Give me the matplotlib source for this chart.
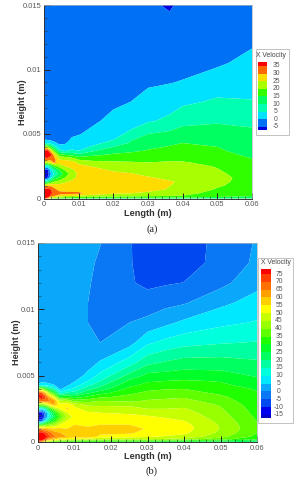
import numpy as np
import matplotlib
matplotlib.use("Agg")
import matplotlib.pyplot as plt
from matplotlib.colors import ListedColormap, BoundaryNorm
from matplotlib.patches import Rectangle

plt.rcParams['font.family'] = ['Liberation Sans', 'DejaVu Sans']

W, H = 308, 480

# --- panel (a) : vitesse, une liste par station x ---
x_a = [0, .001, .002, .003, .0045, .006, .008, .01, .015, .02, .025, .03, .0362, .04, .05, .06]
y_a = [0, .0002, .0004, .0007, .001, .0013, .0016, .0019, .0022, .0025, .0028, .0031, .0034,
       .0037, .004, .0043, .0046, .005, .006, .0075, .009, .0105, .012, .014, .015]
ua_00 = [37, 40, 39, 36, 28, 8, -6, -9, -5, 6, 25, 33, 40, 36, 20, 5, -0.5, -2, -2.5, -2.5, -2.5, -2.5, -2.5, -2.5, -2.5]
ua_01 = [30, 42, 41, 37, 29, 10, -5, -8, -6.5, 4, 24, 34, 41, 37, 22, 4, -1, -2, -2.5, -2.5, -2.5, -2.5, -2.5, -2.5, -2.5]
ua_02 = [20, 33, 36, 35, 29, 16, 4, 0, 3, 12, 27, 33, 36, 27, 14, 3, -1.5, -2.5, -2.5, -2.5, -2.5, -2.5, -2.5, -2.5, -2.5]
ua_03 = [18, 30, 33, 31, 28, 20, 12, 6, 9, 17, 31, 31, 27, 18, 8, 1, -2, -2.5, -2.7, -2.7, -2.7, -2.7, -2.7, -2.7, -2.7]
ua_04 = [16, 27, 32, 28, 27, 22, 16, 12, 15, 22, 27, 24, 17, 7, 1.5, -1, -2.5, -2.8, -3, -3, -3, -3, -3, -3, -3]
ua_06 = [15, 25, 32, 27, 27, 24, 20, 17, 20, 25, 26.5, 24, 14.5, 4.5, 1.5, -0.5, -2, -2.8, -3, -3, -3, -3, -3, -3, -3]
ua_08 = [14, 25, 31.5, 27.5, 28, 26, 23, 22, 24, 26.5, 26.5, 22, 13, 6, 3, 1.5, 0.5, -0.8, -3, -3, -3, -3, -3, -3, -3]
ua_10 = [14, 24, 31, 28, 28.5, 27.5, 26.5, 26, 26.5, 26, 24, 18, 11, 5, 3.5, 2.5, 1.2, -0.3, -2.5, -3, -3, -3, -3, -3, -3]
ua_15 = [13, 23, 27, 28, 29, 29, 28.5, 27.5, 26, 24.5, 21, 18, 14, 10, 6, 4.2, 3, 1.8, -0.5, -2.8, -3, -3, -3, -3, -3]
ua_20 = [13, 22, 25.5, 28, 29, 29, 28, 26, 24.5, 22.5, 20.5, 18.5, 15.7, 12.5, 10, 6.5, 4.7, 3.5, 1.5, -1, -2.8, -3, -3, -3, -3]
ua_25 = [13, 21.5, 25, 27.5, 28.5, 28.3, 27, 25.3, 23.8, 22, 20.3, 18.4, 16.4, 14, 12, 10.5, 9.5, 6, 3, 0, -2.2, -3, -3, -3, -3]
ua_30 = [13, 20.8, 24, 26.5, 27.5, 27, 25.5, 24, 22.5, 21.2, 20, 18.3, 17, 15.4, 14, 13, 11.5, 10, 4.5, 2, -0.8, -2.5, -3, -3, -2.8]
ua_36 = [12, 20, 22.5, 24.6, 25.1, 25.4, 24, 23, 22, 21, 20.3, 19.2, 18, 16.5, 15.3, 14.2, 13, 11.2, 6, 3, -0.2, -2, -3, -3.5, -6.5]
ua_40 = [12, 19.8, 21.5, 23, 24, 24.4, 23.8, 23, 22, 21, 20.3, 19, 18, 17, 16, 15, 13.8, 12.3, 8.5, 4, 0.3, -1.8, -2.8, -2.5, -2.2]
ua_50 = [12, 17, 18.3, 19.6, 20.5, 20.9, 21, 20.6, 20.2, 19.8, 18.8, 17.6, 16.5, 15.6, 15, 14, 13, 12, 9.5, 5.7, 2.5, -0.7, -2, -2.3, -2]
ua_60 = [11, 15.3, 16, 17, 18, 18.5, 18.7, 18.5, 18, 17, 16, 15, 14, 13.2, 12.7, 12.2, 11.7, 11, 9, 5.2, 3.5, 1.5, -0.5, -2, -2]
levels_a = [-5, 0, 5, 10, 15, 20, 25, 30, 35]
colors_a = ['#0000e0', '#0070f5', '#00e0ff', '#00ffb0', '#00ff60', '#30ff00', '#a8ff00',
            '#ffdc00', '#ff6a00', '#ff0000']

# --- panel (b) ---
x_b = [0, .001, .002, .003, .0045, .006, .008, .01, .0137, .017, .025, .03, .035, .04, .05, .06]
y_b = [0, .0002, .0004, .0007, .001, .0013, .0016, .0019, .0022, .0025, .0028, .0031, .0034,
       .0037, .004, .0043, .0046, .005, .006, .0075, .009, .0105, .012, .0135, .015]
ub_00 = [70, 80, 80, 76, 60, 30, -8, -16, -12, 10, 40, 65, 76, 74, 42, 6, 2.5, 2, 2, 2, 2, 2, 2, 2, 2]
ub_01 = [62, 82, 82, 77, 62, 32, -6, -16, -12, 8, 38, 68, 78, 70, 42, 9, 3, 2, 1.8, 1.8, 1.8, 1.8, 1.8, 1.8, 1.8]
ub_02 = [45, 72, 78, 72, 60, 36, 10, -2, -2, 15, 42, 68, 72, 58, 32, 8, 3, 2, 1.6, 1.6, 1.6, 1.6, 1.6, 1.6, 1.6]
ub_03 = [40, 62, 72, 68, 58, 40, 22, 10, 14, 28, 52, 66, 60, 44, 22, 7, 2.5, 1.8, 1.5, 1.5, 1.5, 1.5, 1.5, 1.5, 1.5]
ub_04 = [35, 56, 66, 62, 56, 44, 32, 24, 28, 42, 60, 62, 48, 30, 15, 5, 1.5, 1, 1, 1.2, 1.2, 1.2, 1.2, 1.2, 1.2]
ub_06 = [32, 52, 63, 60, 56, 50, 42, 36, 40, 50, 52, 46, 28, 13, 4, 1, 0.5, 0.8, 1, 1.2, 1.2, 1.2, 1.2, 1.2, 1.2]
ub_08 = [30, 50, 60, 58, 55, 53, 50, 46, 50, 56, 54, 44, 30, 16, 8, 4, 2, 1, 0.6, 0.8, 1, 1, 1.2, 1.5, 1.8]
ub_10 = [29, 48, 58, 57, 56, 55, 54, 52, 52, 51, 49, 38, 27, 17, 11.5, 7.5, 4.5, 2.5, 0.5, 0.8, 1, 1, 1.2, 1.5, 1.8]
ub_14 = [28, 47, 60, 57, 56, 54, 52.5, 51.5, 50.5, 48.5, 44, 38, 31, 24, 18.5, 13.5, 10, 6.5, 2.5, 0.5, 0, 0, 0.5, 1, 1.5]
ub_17 = [28, 45, 53, 57, 56.5, 55, 53, 51.5, 50, 47.5, 44, 40, 34, 28, 22, 18.5, 15, 11.5, 5.5, 0, -1.5, -2, -1.5, -0.8, 0.2]
ub_25 = [27, 45, 52, 56, 57, 55, 52.5, 51, 49.5, 47, 44, 39, 36.5, 34, 31.5, 28.5, 26, 21.5, 12.5, 3, 0, -3.5, -4.5, -4.5, -4.5]
ub_30 = [26, 45, 50.5, 53, 54.5, 54, 52.5, 50.5, 48.5, 45, 42.5, 40.5, 38.3, 36, 34, 31.5, 29.3, 26.5, 18.5, 9, 1.5, -3, -6, -7.5, -8]
ub_35 = [25, 44, 49.5, 52, 53.3, 52.7, 51, 49.5, 47.7, 45, 43, 41, 39, 36.6, 34.8, 32.3, 30, 27, 20.5, 11.5, 3.8, -1.5, -5.5, -7.5, -8]
ub_40 = [24, 42, 48.5, 51, 52, 51.5, 50, 48.5, 47, 45.5, 43.5, 41.5, 39.5, 37, 35, 32.5, 30.5, 27.5, 22, 13.2, 6, -0.5, -4.9, -7, -7]
ub_50 = [22, 37, 41.5, 44, 44.8, 44.5, 43.5, 42.5, 41.5, 40.5, 39.5, 37.5, 36, 34, 32.5, 30.8, 29.7, 27, 22, 14.5, 8.8, 3.8, -1.5, -3.5, -3.8]
ub_60 = [19, 30, 33.5, 35, 35.8, 35.5, 34.8, 34, 33.3, 32.7, 32, 31.5, 31, 30.3, 29.5, 28.2, 26.2, 24.5, 20.7, 15.3, 10.4, 7, 3.5, 1, 0.5]
levels_b = [-15, -10, -5, 0, 5, 10, 15, 20, 25, 30, 35, 40, 45, 50, 55, 60, 65, 70, 75]
colors_b = ['#0000c8', '#0000f0', '#0048f0', '#0a78f5', '#0aa8fa', '#00e8ff', '#00ffdc', '#00ffa0',
            '#00ff60', '#00ff28', '#20ff00', '#60ff00', '#98ff00', '#c8ff00', '#ffff00',
            '#ffd000', '#ffa000', '#ff7000', '#ff4000', '#ff0000']

x_ticks = [0, .01, .02, .03, .04, .05, .06]
x_labels = ['0', '0.01', '0.02', '0.03', '0.04', '0.05', '0.06']
y_ticks = [0, .005, .01, .015]
y_labels = ['0', '0.005', '0.01', '0.015']


def boite(l, t, r, b):
    """Rectangle en pixels (origine en haut a gauche) -> coordonnees figure."""
    return [l / W, 1 - b / H, (r - l) / W, (b - t) / H]


def panneau(fig, pos, x, y, u, levels, couleurs):
    ax = fig.add_axes(boite(*pos))
    ax.contourf(x, y, u, levels=levels, colors=couleurs, extend='both', antialiased=True)
    ax.set_xlim(0, .06)
    ax.set_ylim(0, .015)
    ax.set_xticks(x_ticks, x_labels)
    ax.set_yticks(y_ticks, y_labels)
    ax.set_xticks(np.arange(0, .0601, .002), minor=True)
    ax.set_yticks(np.arange(0, .0151, .001), minor=True)
    ax.tick_params(which='major', direction='in', length=4, width=0.7, color='#222222',
                   labelsize=5.4, labelcolor='#555555', pad=2)
    ax.tick_params(which='minor', direction='in', length=2, width=0.4, color='#333333')
    for cote in ['left', 'bottom']:
        ax.spines[cote].set_linewidth(0.7)
        ax.spines[cote].set_color('#333333')
    for cote in ['top', 'right']:
        ax.spines[cote].set_linewidth(0.5)
        ax.spines[cote].set_color('#b0b8b8')
    ax.set_xlabel('Length (m)', fontsize=6.6, fontweight='bold', color='#333333', labelpad=0.5)
    ax.set_ylabel('Height (m)', fontsize=6.6, fontweight='bold', color='#333333', labelpad=-3)
    return ax


def legende(fig, cadre, barre, titre_xy, levels, couleurs, label_x, haut, bas):
    # cadre blanc, sous la barre de couleurs
    fig.add_artist(Rectangle((cadre[0] / W, 1 - cadre[3] / H), (cadre[2] - cadre[0]) / W,
                             (cadre[3] - cadre[1]) / H, transform=fig.transFigure,
                             facecolor='white', edgecolor='#b8b8b8', linewidth=0.6, zorder=1))
    fig.text(titre_xy[0] / W, 1 - titre_xy[1] / H, 'X Velocity', fontsize=4.9, color='#444444',
             ha='center', va='center')
    cax = fig.add_axes(boite(*barre))
    cax.set_zorder(2)
    bords = [levels[0] - bas] + list(levels) + [levels[-1] + haut]
    cmap = ListedColormap(couleurs)
    norm = BoundaryNorm(bords, cmap.N)
    milieux = (np.array(bords[:-1]) + np.array(bords[1:])) / 2
    cax.pcolormesh([0, 1], bords, milieux[:, None], cmap=cmap, norm=norm)
    cax.set_axis_off()
    for v in levels:
        yf = cax.get_position().y0 + (v - bords[0]) / (bords[-1] - bords[0]) * cax.get_position().height
        fig.text(label_x / W, yf, str(v), fontsize=4.9, color='#555555', ha='center', va='center')


fig = plt.figure(figsize=(W / 100, H / 100), dpi=100)

u_a = np.column_stack([ua_00, ua_01, ua_02, ua_03, ua_04, ua_06, ua_08, ua_10, ua_15, ua_20, ua_25,
                       ua_30, ua_36, ua_40, ua_50, ua_60])
u_b = np.column_stack([ub_00, ub_01, ub_02, ub_03, ub_04, ub_06, ub_08, ub_10, ub_14, ub_17,
                       ub_25, ub_30, ub_35, ub_40, ub_50, ub_60])

panneau(fig, (44, 5, 252, 198.5), x_a, y_a, u_a, levels_a, colors_a)
panneau(fig, (38, 243, 257, 442), x_b, y_b, u_b, levels_b, colors_b)

legende(fig, (255.5, 49, 288.5, 135), (258, 61.7, 267, 130), (271, 55.5), levels_a, colors_a, 276, 2.8, 2)
legende(fig, (258, 258, 292.5, 423), (261, 269, 271, 418), (276, 263), levels_b, colors_b, 279, 3.2, 2)

# legendes (a) et (b)
serif = ['Liberation Serif', 'DejaVu Serif']
fig.text(152 / W, 1 - 229 / H, '(a)', fontsize=7.5, family=serif, color='#222222', ha='center', va='center')
fig.text(152 / W, 1 - 471 / H, '(b)', fontsize=7.5, family=serif, color='#222222', ha='center', va='center')

fig.savefig('out.png', dpi=100)
